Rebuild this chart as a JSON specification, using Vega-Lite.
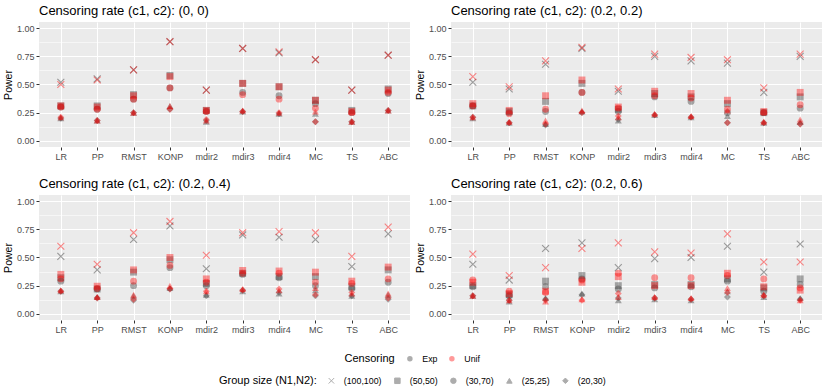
{
"$schema": "https://vega.github.io/schema/vega-lite/v6.json",
"padding": {"left": 3, "right": 5, "top": 5, "bottom": 1},
"data": {"values": [
{"p":"(0, 0)","m":"LR","c":"Exp","g":"(100,100)","v":0.52},{"p":"(0, 0)","m":"LR","c":"Exp","g":"(50,50)","v":0.31},{"p":"(0, 0)","m":"LR","c":"Exp","g":"(30,70)","v":0.30},{"p":"(0, 0)","m":"LR","c":"Exp","g":"(25,25)","v":0.20},{"p":"(0, 0)","m":"LR","c":"Exp","g":"(20,30)","v":0.20},
{"p":"(0, 0)","m":"LR","c":"Unif","g":"(100,100)","v":0.50},{"p":"(0, 0)","m":"LR","c":"Unif","g":"(50,50)","v":0.31},{"p":"(0, 0)","m":"LR","c":"Unif","g":"(30,70)","v":0.30},{"p":"(0, 0)","m":"LR","c":"Unif","g":"(25,25)","v":0.21},{"p":"(0, 0)","m":"LR","c":"Unif","g":"(20,30)","v":0.21},
{"p":"(0, 0)","m":"PP","c":"Exp","g":"(100,100)","v":0.55},{"p":"(0, 0)","m":"PP","c":"Exp","g":"(50,50)","v":0.31},{"p":"(0, 0)","m":"PP","c":"Exp","g":"(30,70)","v":0.28},{"p":"(0, 0)","m":"PP","c":"Exp","g":"(25,25)","v":0.18},{"p":"(0, 0)","m":"PP","c":"Exp","g":"(20,30)","v":0.18},
{"p":"(0, 0)","m":"PP","c":"Unif","g":"(100,100)","v":0.54},{"p":"(0, 0)","m":"PP","c":"Unif","g":"(50,50)","v":0.30},{"p":"(0, 0)","m":"PP","c":"Unif","g":"(30,70)","v":0.28},{"p":"(0, 0)","m":"PP","c":"Unif","g":"(25,25)","v":0.18},{"p":"(0, 0)","m":"PP","c":"Unif","g":"(20,30)","v":0.18},
{"p":"(0, 0)","m":"RMST","c":"Exp","g":"(100,100)","v":0.63},{"p":"(0, 0)","m":"RMST","c":"Exp","g":"(50,50)","v":0.41},{"p":"(0, 0)","m":"RMST","c":"Exp","g":"(30,70)","v":0.37},{"p":"(0, 0)","m":"RMST","c":"Exp","g":"(25,25)","v":0.25},{"p":"(0, 0)","m":"RMST","c":"Exp","g":"(20,30)","v":0.25},
{"p":"(0, 0)","m":"RMST","c":"Unif","g":"(100,100)","v":0.63},{"p":"(0, 0)","m":"RMST","c":"Unif","g":"(50,50)","v":0.40},{"p":"(0, 0)","m":"RMST","c":"Unif","g":"(30,70)","v":0.37},{"p":"(0, 0)","m":"RMST","c":"Unif","g":"(25,25)","v":0.25},{"p":"(0, 0)","m":"RMST","c":"Unif","g":"(20,30)","v":0.25},
{"p":"(0, 0)","m":"KONP","c":"Exp","g":"(100,100)","v":0.88},{"p":"(0, 0)","m":"KONP","c":"Exp","g":"(50,50)","v":0.58},{"p":"(0, 0)","m":"KONP","c":"Exp","g":"(30,70)","v":0.47},{"p":"(0, 0)","m":"KONP","c":"Exp","g":"(25,25)","v":0.31},{"p":"(0, 0)","m":"KONP","c":"Exp","g":"(20,30)","v":0.28},
{"p":"(0, 0)","m":"KONP","c":"Unif","g":"(100,100)","v":0.88},{"p":"(0, 0)","m":"KONP","c":"Unif","g":"(50,50)","v":0.57},{"p":"(0, 0)","m":"KONP","c":"Unif","g":"(30,70)","v":0.47},{"p":"(0, 0)","m":"KONP","c":"Unif","g":"(25,25)","v":0.31},{"p":"(0, 0)","m":"KONP","c":"Unif","g":"(20,30)","v":0.28},
{"p":"(0, 0)","m":"mdir2","c":"Exp","g":"(100,100)","v":0.45},{"p":"(0, 0)","m":"mdir2","c":"Exp","g":"(50,50)","v":0.27},{"p":"(0, 0)","m":"mdir2","c":"Exp","g":"(30,70)","v":0.26},{"p":"(0, 0)","m":"mdir2","c":"Exp","g":"(25,25)","v":0.17},{"p":"(0, 0)","m":"mdir2","c":"Exp","g":"(20,30)","v":0.18},
{"p":"(0, 0)","m":"mdir2","c":"Unif","g":"(100,100)","v":0.45},{"p":"(0, 0)","m":"mdir2","c":"Unif","g":"(50,50)","v":0.27},{"p":"(0, 0)","m":"mdir2","c":"Unif","g":"(30,70)","v":0.26},{"p":"(0, 0)","m":"mdir2","c":"Unif","g":"(25,25)","v":0.18},{"p":"(0, 0)","m":"mdir2","c":"Unif","g":"(20,30)","v":0.19},
{"p":"(0, 0)","m":"mdir3","c":"Exp","g":"(100,100)","v":0.82},{"p":"(0, 0)","m":"mdir3","c":"Exp","g":"(50,50)","v":0.51},{"p":"(0, 0)","m":"mdir3","c":"Exp","g":"(30,70)","v":0.43},{"p":"(0, 0)","m":"mdir3","c":"Exp","g":"(25,25)","v":0.26},{"p":"(0, 0)","m":"mdir3","c":"Exp","g":"(20,30)","v":0.26},
{"p":"(0, 0)","m":"mdir3","c":"Unif","g":"(100,100)","v":0.82},{"p":"(0, 0)","m":"mdir3","c":"Unif","g":"(50,50)","v":0.51},{"p":"(0, 0)","m":"mdir3","c":"Unif","g":"(30,70)","v":0.41},{"p":"(0, 0)","m":"mdir3","c":"Unif","g":"(25,25)","v":0.27},{"p":"(0, 0)","m":"mdir3","c":"Unif","g":"(20,30)","v":0.26},
{"p":"(0, 0)","m":"mdir4","c":"Exp","g":"(100,100)","v":0.78},{"p":"(0, 0)","m":"mdir4","c":"Exp","g":"(50,50)","v":0.48},{"p":"(0, 0)","m":"mdir4","c":"Exp","g":"(30,70)","v":0.40},{"p":"(0, 0)","m":"mdir4","c":"Exp","g":"(25,25)","v":0.24},{"p":"(0, 0)","m":"mdir4","c":"Exp","g":"(20,30)","v":0.24},
{"p":"(0, 0)","m":"mdir4","c":"Unif","g":"(100,100)","v":0.79},{"p":"(0, 0)","m":"mdir4","c":"Unif","g":"(50,50)","v":0.48},{"p":"(0, 0)","m":"mdir4","c":"Unif","g":"(30,70)","v":0.37},{"p":"(0, 0)","m":"mdir4","c":"Unif","g":"(25,25)","v":0.25},{"p":"(0, 0)","m":"mdir4","c":"Unif","g":"(20,30)","v":0.25},
{"p":"(0, 0)","m":"MC","c":"Exp","g":"(100,100)","v":0.72},{"p":"(0, 0)","m":"MC","c":"Exp","g":"(50,50)","v":0.36},{"p":"(0, 0)","m":"MC","c":"Exp","g":"(30,70)","v":0.33},{"p":"(0, 0)","m":"MC","c":"Exp","g":"(25,25)","v":0.24},{"p":"(0, 0)","m":"MC","c":"Exp","g":"(20,30)","v":0.17},
{"p":"(0, 0)","m":"MC","c":"Unif","g":"(100,100)","v":0.72},{"p":"(0, 0)","m":"MC","c":"Unif","g":"(50,50)","v":0.36},{"p":"(0, 0)","m":"MC","c":"Unif","g":"(30,70)","v":0.29},{"p":"(0, 0)","m":"MC","c":"Unif","g":"(25,25)","v":0.26},{"p":"(0, 0)","m":"MC","c":"Unif","g":"(20,30)","v":0.17},
{"p":"(0, 0)","m":"TS","c":"Exp","g":"(100,100)","v":0.45},{"p":"(0, 0)","m":"TS","c":"Exp","g":"(50,50)","v":0.27},{"p":"(0, 0)","m":"TS","c":"Exp","g":"(30,70)","v":0.25},{"p":"(0, 0)","m":"TS","c":"Exp","g":"(25,25)","v":0.17},{"p":"(0, 0)","m":"TS","c":"Exp","g":"(20,30)","v":0.17},
{"p":"(0, 0)","m":"TS","c":"Unif","g":"(100,100)","v":0.45},{"p":"(0, 0)","m":"TS","c":"Unif","g":"(50,50)","v":0.26},{"p":"(0, 0)","m":"TS","c":"Unif","g":"(30,70)","v":0.25},{"p":"(0, 0)","m":"TS","c":"Unif","g":"(25,25)","v":0.17},{"p":"(0, 0)","m":"TS","c":"Unif","g":"(20,30)","v":0.17},
{"p":"(0, 0)","m":"ABC","c":"Exp","g":"(100,100)","v":0.76},{"p":"(0, 0)","m":"ABC","c":"Exp","g":"(50,50)","v":0.46},{"p":"(0, 0)","m":"ABC","c":"Exp","g":"(30,70)","v":0.42},{"p":"(0, 0)","m":"ABC","c":"Exp","g":"(25,25)","v":0.27},{"p":"(0, 0)","m":"ABC","c":"Exp","g":"(20,30)","v":0.27},
{"p":"(0, 0)","m":"ABC","c":"Unif","g":"(100,100)","v":0.76},{"p":"(0, 0)","m":"ABC","c":"Unif","g":"(50,50)","v":0.45},{"p":"(0, 0)","m":"ABC","c":"Unif","g":"(30,70)","v":0.43},{"p":"(0, 0)","m":"ABC","c":"Unif","g":"(25,25)","v":0.27},{"p":"(0, 0)","m":"ABC","c":"Unif","g":"(20,30)","v":0.27},

{"p":"(0.2, 0.2)","m":"LR","c":"Exp","g":"(100,100)","v":0.52},{"p":"(0.2, 0.2)","m":"LR","c":"Exp","g":"(50,50)","v":0.31},{"p":"(0.2, 0.2)","m":"LR","c":"Exp","g":"(30,70)","v":0.31},{"p":"(0.2, 0.2)","m":"LR","c":"Exp","g":"(25,25)","v":0.20},{"p":"(0.2, 0.2)","m":"LR","c":"Exp","g":"(20,30)","v":0.21},
{"p":"(0.2, 0.2)","m":"LR","c":"Unif","g":"(100,100)","v":0.57},{"p":"(0.2, 0.2)","m":"LR","c":"Unif","g":"(50,50)","v":0.33},{"p":"(0.2, 0.2)","m":"LR","c":"Unif","g":"(30,70)","v":0.31},{"p":"(0.2, 0.2)","m":"LR","c":"Unif","g":"(25,25)","v":0.21},{"p":"(0.2, 0.2)","m":"LR","c":"Unif","g":"(20,30)","v":0.21},
{"p":"(0.2, 0.2)","m":"PP","c":"Exp","g":"(100,100)","v":0.46},{"p":"(0.2, 0.2)","m":"PP","c":"Exp","g":"(50,50)","v":0.26},{"p":"(0.2, 0.2)","m":"PP","c":"Exp","g":"(30,70)","v":0.25},{"p":"(0.2, 0.2)","m":"PP","c":"Exp","g":"(25,25)","v":0.16},{"p":"(0.2, 0.2)","m":"PP","c":"Exp","g":"(20,30)","v":0.16},
{"p":"(0.2, 0.2)","m":"PP","c":"Unif","g":"(100,100)","v":0.48},{"p":"(0.2, 0.2)","m":"PP","c":"Unif","g":"(50,50)","v":0.27},{"p":"(0.2, 0.2)","m":"PP","c":"Unif","g":"(30,70)","v":0.24},{"p":"(0.2, 0.2)","m":"PP","c":"Unif","g":"(25,25)","v":0.17},{"p":"(0.2, 0.2)","m":"PP","c":"Unif","g":"(20,30)","v":0.16},
{"p":"(0.2, 0.2)","m":"RMST","c":"Exp","g":"(100,100)","v":0.68},{"p":"(0.2, 0.2)","m":"RMST","c":"Exp","g":"(50,50)","v":0.35},{"p":"(0.2, 0.2)","m":"RMST","c":"Exp","g":"(30,70)","v":0.26},{"p":"(0.2, 0.2)","m":"RMST","c":"Exp","g":"(25,25)","v":0.15},{"p":"(0.2, 0.2)","m":"RMST","c":"Exp","g":"(20,30)","v":0.14},
{"p":"(0.2, 0.2)","m":"RMST","c":"Unif","g":"(100,100)","v":0.71},{"p":"(0.2, 0.2)","m":"RMST","c":"Unif","g":"(50,50)","v":0.40},{"p":"(0.2, 0.2)","m":"RMST","c":"Unif","g":"(30,70)","v":0.28},{"p":"(0.2, 0.2)","m":"RMST","c":"Unif","g":"(25,25)","v":0.18},{"p":"(0.2, 0.2)","m":"RMST","c":"Unif","g":"(20,30)","v":0.15},
{"p":"(0.2, 0.2)","m":"KONP","c":"Exp","g":"(100,100)","v":0.82},{"p":"(0.2, 0.2)","m":"KONP","c":"Exp","g":"(50,50)","v":0.51},{"p":"(0.2, 0.2)","m":"KONP","c":"Exp","g":"(30,70)","v":0.43},{"p":"(0.2, 0.2)","m":"KONP","c":"Exp","g":"(25,25)","v":0.26},{"p":"(0.2, 0.2)","m":"KONP","c":"Exp","g":"(20,30)","v":0.25},
{"p":"(0.2, 0.2)","m":"KONP","c":"Unif","g":"(100,100)","v":0.83},{"p":"(0.2, 0.2)","m":"KONP","c":"Unif","g":"(50,50)","v":0.54},{"p":"(0.2, 0.2)","m":"KONP","c":"Unif","g":"(30,70)","v":0.43},{"p":"(0.2, 0.2)","m":"KONP","c":"Unif","g":"(25,25)","v":0.27},{"p":"(0.2, 0.2)","m":"KONP","c":"Unif","g":"(20,30)","v":0.25},
{"p":"(0.2, 0.2)","m":"mdir2","c":"Exp","g":"(100,100)","v":0.44},{"p":"(0.2, 0.2)","m":"mdir2","c":"Exp","g":"(50,50)","v":0.28},{"p":"(0.2, 0.2)","m":"mdir2","c":"Exp","g":"(30,70)","v":0.26},{"p":"(0.2, 0.2)","m":"mdir2","c":"Exp","g":"(25,25)","v":0.18},{"p":"(0.2, 0.2)","m":"mdir2","c":"Exp","g":"(20,30)","v":0.19},
{"p":"(0.2, 0.2)","m":"mdir2","c":"Unif","g":"(100,100)","v":0.46},{"p":"(0.2, 0.2)","m":"mdir2","c":"Unif","g":"(50,50)","v":0.30},{"p":"(0.2, 0.2)","m":"mdir2","c":"Unif","g":"(30,70)","v":0.29},{"p":"(0.2, 0.2)","m":"mdir2","c":"Unif","g":"(25,25)","v":0.21},{"p":"(0.2, 0.2)","m":"mdir2","c":"Unif","g":"(20,30)","v":0.22},
{"p":"(0.2, 0.2)","m":"mdir3","c":"Exp","g":"(100,100)","v":0.75},{"p":"(0.2, 0.2)","m":"mdir3","c":"Exp","g":"(50,50)","v":0.42},{"p":"(0.2, 0.2)","m":"mdir3","c":"Exp","g":"(30,70)","v":0.39},{"p":"(0.2, 0.2)","m":"mdir3","c":"Exp","g":"(25,25)","v":0.23},{"p":"(0.2, 0.2)","m":"mdir3","c":"Exp","g":"(20,30)","v":0.23},
{"p":"(0.2, 0.2)","m":"mdir3","c":"Unif","g":"(100,100)","v":0.77},{"p":"(0.2, 0.2)","m":"mdir3","c":"Unif","g":"(50,50)","v":0.44},{"p":"(0.2, 0.2)","m":"mdir3","c":"Unif","g":"(30,70)","v":0.40},{"p":"(0.2, 0.2)","m":"mdir3","c":"Unif","g":"(25,25)","v":0.24},{"p":"(0.2, 0.2)","m":"mdir3","c":"Unif","g":"(20,30)","v":0.23},
{"p":"(0.2, 0.2)","m":"mdir4","c":"Exp","g":"(100,100)","v":0.71},{"p":"(0.2, 0.2)","m":"mdir4","c":"Exp","g":"(50,50)","v":0.39},{"p":"(0.2, 0.2)","m":"mdir4","c":"Exp","g":"(30,70)","v":0.35},{"p":"(0.2, 0.2)","m":"mdir4","c":"Exp","g":"(25,25)","v":0.21},{"p":"(0.2, 0.2)","m":"mdir4","c":"Exp","g":"(20,30)","v":0.21},
{"p":"(0.2, 0.2)","m":"mdir4","c":"Unif","g":"(100,100)","v":0.74},{"p":"(0.2, 0.2)","m":"mdir4","c":"Unif","g":"(50,50)","v":0.42},{"p":"(0.2, 0.2)","m":"mdir4","c":"Unif","g":"(30,70)","v":0.38},{"p":"(0.2, 0.2)","m":"mdir4","c":"Unif","g":"(25,25)","v":0.22},{"p":"(0.2, 0.2)","m":"mdir4","c":"Unif","g":"(20,30)","v":0.21},
{"p":"(0.2, 0.2)","m":"MC","c":"Exp","g":"(100,100)","v":0.69},{"p":"(0.2, 0.2)","m":"MC","c":"Exp","g":"(50,50)","v":0.33},{"p":"(0.2, 0.2)","m":"MC","c":"Exp","g":"(30,70)","v":0.25},{"p":"(0.2, 0.2)","m":"MC","c":"Exp","g":"(25,25)","v":0.22},{"p":"(0.2, 0.2)","m":"MC","c":"Exp","g":"(20,30)","v":0.16},
{"p":"(0.2, 0.2)","m":"MC","c":"Unif","g":"(100,100)","v":0.72},{"p":"(0.2, 0.2)","m":"MC","c":"Unif","g":"(50,50)","v":0.36},{"p":"(0.2, 0.2)","m":"MC","c":"Unif","g":"(30,70)","v":0.28},{"p":"(0.2, 0.2)","m":"MC","c":"Unif","g":"(25,25)","v":0.27},{"p":"(0.2, 0.2)","m":"MC","c":"Unif","g":"(20,30)","v":0.16},
{"p":"(0.2, 0.2)","m":"TS","c":"Exp","g":"(100,100)","v":0.43},{"p":"(0.2, 0.2)","m":"TS","c":"Exp","g":"(50,50)","v":0.25},{"p":"(0.2, 0.2)","m":"TS","c":"Exp","g":"(30,70)","v":0.25},{"p":"(0.2, 0.2)","m":"TS","c":"Exp","g":"(25,25)","v":0.16},{"p":"(0.2, 0.2)","m":"TS","c":"Exp","g":"(20,30)","v":0.16},
{"p":"(0.2, 0.2)","m":"TS","c":"Unif","g":"(100,100)","v":0.47},{"p":"(0.2, 0.2)","m":"TS","c":"Unif","g":"(50,50)","v":0.26},{"p":"(0.2, 0.2)","m":"TS","c":"Unif","g":"(30,70)","v":0.25},{"p":"(0.2, 0.2)","m":"TS","c":"Unif","g":"(25,25)","v":0.17},{"p":"(0.2, 0.2)","m":"TS","c":"Unif","g":"(20,30)","v":0.16},
{"p":"(0.2, 0.2)","m":"ABC","c":"Exp","g":"(100,100)","v":0.75},{"p":"(0.2, 0.2)","m":"ABC","c":"Exp","g":"(50,50)","v":0.39},{"p":"(0.2, 0.2)","m":"ABC","c":"Exp","g":"(30,70)","v":0.29},{"p":"(0.2, 0.2)","m":"ABC","c":"Exp","g":"(25,25)","v":0.17},{"p":"(0.2, 0.2)","m":"ABC","c":"Exp","g":"(20,30)","v":0.15},
{"p":"(0.2, 0.2)","m":"ABC","c":"Unif","g":"(100,100)","v":0.77},{"p":"(0.2, 0.2)","m":"ABC","c":"Unif","g":"(50,50)","v":0.43},{"p":"(0.2, 0.2)","m":"ABC","c":"Unif","g":"(30,70)","v":0.32},{"p":"(0.2, 0.2)","m":"ABC","c":"Unif","g":"(25,25)","v":0.19},{"p":"(0.2, 0.2)","m":"ABC","c":"Unif","g":"(20,30)","v":0.15},

{"p":"(0.2, 0.4)","m":"LR","c":"Exp","g":"(100,100)","v":0.51},{"p":"(0.2, 0.4)","m":"LR","c":"Exp","g":"(50,50)","v":0.32},{"p":"(0.2, 0.4)","m":"LR","c":"Exp","g":"(30,70)","v":0.29},{"p":"(0.2, 0.4)","m":"LR","c":"Exp","g":"(25,25)","v":0.20},{"p":"(0.2, 0.4)","m":"LR","c":"Exp","g":"(20,30)","v":0.20},
{"p":"(0.2, 0.4)","m":"LR","c":"Unif","g":"(100,100)","v":0.60},{"p":"(0.2, 0.4)","m":"LR","c":"Unif","g":"(50,50)","v":0.35},{"p":"(0.2, 0.4)","m":"LR","c":"Unif","g":"(30,70)","v":0.31},{"p":"(0.2, 0.4)","m":"LR","c":"Unif","g":"(25,25)","v":0.21},{"p":"(0.2, 0.4)","m":"LR","c":"Unif","g":"(20,30)","v":0.20},
{"p":"(0.2, 0.4)","m":"PP","c":"Exp","g":"(100,100)","v":0.39},{"p":"(0.2, 0.4)","m":"PP","c":"Exp","g":"(50,50)","v":0.22},{"p":"(0.2, 0.4)","m":"PP","c":"Exp","g":"(30,70)","v":0.22},{"p":"(0.2, 0.4)","m":"PP","c":"Exp","g":"(25,25)","v":0.15},{"p":"(0.2, 0.4)","m":"PP","c":"Exp","g":"(20,30)","v":0.14},
{"p":"(0.2, 0.4)","m":"PP","c":"Unif","g":"(100,100)","v":0.44},{"p":"(0.2, 0.4)","m":"PP","c":"Unif","g":"(50,50)","v":0.245},{"p":"(0.2, 0.4)","m":"PP","c":"Unif","g":"(30,70)","v":0.225},{"p":"(0.2, 0.4)","m":"PP","c":"Unif","g":"(25,25)","v":0.15},{"p":"(0.2, 0.4)","m":"PP","c":"Unif","g":"(20,30)","v":0.14},
{"p":"(0.2, 0.4)","m":"RMST","c":"Exp","g":"(100,100)","v":0.66},{"p":"(0.2, 0.4)","m":"RMST","c":"Exp","g":"(50,50)","v":0.37},{"p":"(0.2, 0.4)","m":"RMST","c":"Exp","g":"(30,70)","v":0.25},{"p":"(0.2, 0.4)","m":"RMST","c":"Exp","g":"(25,25)","v":0.16},{"p":"(0.2, 0.4)","m":"RMST","c":"Exp","g":"(20,30)","v":0.12},
{"p":"(0.2, 0.4)","m":"RMST","c":"Unif","g":"(100,100)","v":0.72},{"p":"(0.2, 0.4)","m":"RMST","c":"Unif","g":"(50,50)","v":0.39},{"p":"(0.2, 0.4)","m":"RMST","c":"Unif","g":"(30,70)","v":0.29},{"p":"(0.2, 0.4)","m":"RMST","c":"Unif","g":"(25,25)","v":0.17},{"p":"(0.2, 0.4)","m":"RMST","c":"Unif","g":"(20,30)","v":0.13},
{"p":"(0.2, 0.4)","m":"KONP","c":"Exp","g":"(100,100)","v":0.78},{"p":"(0.2, 0.4)","m":"KONP","c":"Exp","g":"(50,50)","v":0.48},{"p":"(0.2, 0.4)","m":"KONP","c":"Exp","g":"(30,70)","v":0.41},{"p":"(0.2, 0.4)","m":"KONP","c":"Exp","g":"(25,25)","v":0.23},{"p":"(0.2, 0.4)","m":"KONP","c":"Exp","g":"(20,30)","v":0.22},
{"p":"(0.2, 0.4)","m":"KONP","c":"Unif","g":"(100,100)","v":0.82},{"p":"(0.2, 0.4)","m":"KONP","c":"Unif","g":"(50,50)","v":0.50},{"p":"(0.2, 0.4)","m":"KONP","c":"Unif","g":"(30,70)","v":0.43},{"p":"(0.2, 0.4)","m":"KONP","c":"Unif","g":"(25,25)","v":0.25},{"p":"(0.2, 0.4)","m":"KONP","c":"Unif","g":"(20,30)","v":0.22},
{"p":"(0.2, 0.4)","m":"mdir2","c":"Exp","g":"(100,100)","v":0.40},{"p":"(0.2, 0.4)","m":"mdir2","c":"Exp","g":"(50,50)","v":0.27},{"p":"(0.2, 0.4)","m":"mdir2","c":"Exp","g":"(30,70)","v":0.25},{"p":"(0.2, 0.4)","m":"mdir2","c":"Exp","g":"(25,25)","v":0.17},{"p":"(0.2, 0.4)","m":"mdir2","c":"Exp","g":"(20,30)","v":0.16},
{"p":"(0.2, 0.4)","m":"mdir2","c":"Unif","g":"(100,100)","v":0.52},{"p":"(0.2, 0.4)","m":"mdir2","c":"Unif","g":"(50,50)","v":0.31},{"p":"(0.2, 0.4)","m":"mdir2","c":"Unif","g":"(30,70)","v":0.28},{"p":"(0.2, 0.4)","m":"mdir2","c":"Unif","g":"(25,25)","v":0.20},{"p":"(0.2, 0.4)","m":"mdir2","c":"Unif","g":"(20,30)","v":0.20},
{"p":"(0.2, 0.4)","m":"mdir3","c":"Exp","g":"(100,100)","v":0.70},{"p":"(0.2, 0.4)","m":"mdir3","c":"Exp","g":"(50,50)","v":0.36},{"p":"(0.2, 0.4)","m":"mdir3","c":"Exp","g":"(30,70)","v":0.35},{"p":"(0.2, 0.4)","m":"mdir3","c":"Exp","g":"(25,25)","v":0.20},{"p":"(0.2, 0.4)","m":"mdir3","c":"Exp","g":"(20,30)","v":0.21},
{"p":"(0.2, 0.4)","m":"mdir3","c":"Unif","g":"(100,100)","v":0.72},{"p":"(0.2, 0.4)","m":"mdir3","c":"Unif","g":"(50,50)","v":0.385},{"p":"(0.2, 0.4)","m":"mdir3","c":"Unif","g":"(30,70)","v":0.36},{"p":"(0.2, 0.4)","m":"mdir3","c":"Unif","g":"(25,25)","v":0.22},{"p":"(0.2, 0.4)","m":"mdir3","c":"Unif","g":"(20,30)","v":0.21},
{"p":"(0.2, 0.4)","m":"mdir4","c":"Exp","g":"(100,100)","v":0.68},{"p":"(0.2, 0.4)","m":"mdir4","c":"Exp","g":"(50,50)","v":0.33},{"p":"(0.2, 0.4)","m":"mdir4","c":"Exp","g":"(30,70)","v":0.32},{"p":"(0.2, 0.4)","m":"mdir4","c":"Exp","g":"(25,25)","v":0.18},{"p":"(0.2, 0.4)","m":"mdir4","c":"Exp","g":"(20,30)","v":0.19},
{"p":"(0.2, 0.4)","m":"mdir4","c":"Unif","g":"(100,100)","v":0.73},{"p":"(0.2, 0.4)","m":"mdir4","c":"Unif","g":"(50,50)","v":0.38},{"p":"(0.2, 0.4)","m":"mdir4","c":"Unif","g":"(30,70)","v":0.36},{"p":"(0.2, 0.4)","m":"mdir4","c":"Unif","g":"(25,25)","v":0.21},{"p":"(0.2, 0.4)","m":"mdir4","c":"Unif","g":"(20,30)","v":0.22},
{"p":"(0.2, 0.4)","m":"MC","c":"Exp","g":"(100,100)","v":0.66},{"p":"(0.2, 0.4)","m":"MC","c":"Exp","g":"(50,50)","v":0.33},{"p":"(0.2, 0.4)","m":"MC","c":"Exp","g":"(30,70)","v":0.25},{"p":"(0.2, 0.4)","m":"MC","c":"Exp","g":"(25,25)","v":0.21},{"p":"(0.2, 0.4)","m":"MC","c":"Exp","g":"(20,30)","v":0.16},
{"p":"(0.2, 0.4)","m":"MC","c":"Unif","g":"(100,100)","v":0.72},{"p":"(0.2, 0.4)","m":"MC","c":"Unif","g":"(50,50)","v":0.37},{"p":"(0.2, 0.4)","m":"MC","c":"Unif","g":"(30,70)","v":0.28},{"p":"(0.2, 0.4)","m":"MC","c":"Unif","g":"(25,25)","v":0.23},{"p":"(0.2, 0.4)","m":"MC","c":"Unif","g":"(20,30)","v":0.17},
{"p":"(0.2, 0.4)","m":"TS","c":"Exp","g":"(100,100)","v":0.42},{"p":"(0.2, 0.4)","m":"TS","c":"Exp","g":"(50,50)","v":0.24},{"p":"(0.2, 0.4)","m":"TS","c":"Exp","g":"(30,70)","v":0.225},{"p":"(0.2, 0.4)","m":"TS","c":"Exp","g":"(25,25)","v":0.16},{"p":"(0.2, 0.4)","m":"TS","c":"Exp","g":"(20,30)","v":0.16},
{"p":"(0.2, 0.4)","m":"TS","c":"Unif","g":"(100,100)","v":0.51},{"p":"(0.2, 0.4)","m":"TS","c":"Unif","g":"(50,50)","v":0.29},{"p":"(0.2, 0.4)","m":"TS","c":"Unif","g":"(30,70)","v":0.27},{"p":"(0.2, 0.4)","m":"TS","c":"Unif","g":"(25,25)","v":0.18},{"p":"(0.2, 0.4)","m":"TS","c":"Unif","g":"(20,30)","v":0.19},
{"p":"(0.2, 0.4)","m":"ABC","c":"Exp","g":"(100,100)","v":0.71},{"p":"(0.2, 0.4)","m":"ABC","c":"Exp","g":"(50,50)","v":0.39},{"p":"(0.2, 0.4)","m":"ABC","c":"Exp","g":"(30,70)","v":0.28},{"p":"(0.2, 0.4)","m":"ABC","c":"Exp","g":"(25,25)","v":0.17},{"p":"(0.2, 0.4)","m":"ABC","c":"Exp","g":"(20,30)","v":0.13},
{"p":"(0.2, 0.4)","m":"ABC","c":"Unif","g":"(100,100)","v":0.77},{"p":"(0.2, 0.4)","m":"ABC","c":"Unif","g":"(50,50)","v":0.415},{"p":"(0.2, 0.4)","m":"ABC","c":"Unif","g":"(30,70)","v":0.31},{"p":"(0.2, 0.4)","m":"ABC","c":"Unif","g":"(25,25)","v":0.18},{"p":"(0.2, 0.4)","m":"ABC","c":"Unif","g":"(20,30)","v":0.14},

{"p":"(0.2, 0.6)","m":"LR","c":"Exp","g":"(100,100)","v":0.44},{"p":"(0.2, 0.6)","m":"LR","c":"Exp","g":"(50,50)","v":0.25},{"p":"(0.2, 0.6)","m":"LR","c":"Exp","g":"(30,70)","v":0.24},{"p":"(0.2, 0.6)","m":"LR","c":"Exp","g":"(25,25)","v":0.16},{"p":"(0.2, 0.6)","m":"LR","c":"Exp","g":"(20,30)","v":0.16},
{"p":"(0.2, 0.6)","m":"LR","c":"Unif","g":"(100,100)","v":0.53},{"p":"(0.2, 0.6)","m":"LR","c":"Unif","g":"(50,50)","v":0.28},{"p":"(0.2, 0.6)","m":"LR","c":"Unif","g":"(30,70)","v":0.30},{"p":"(0.2, 0.6)","m":"LR","c":"Unif","g":"(25,25)","v":0.16},{"p":"(0.2, 0.6)","m":"LR","c":"Unif","g":"(20,30)","v":0.16},
{"p":"(0.2, 0.6)","m":"PP","c":"Exp","g":"(100,100)","v":0.30},{"p":"(0.2, 0.6)","m":"PP","c":"Exp","g":"(50,50)","v":0.17},{"p":"(0.2, 0.6)","m":"PP","c":"Exp","g":"(30,70)","v":0.16},{"p":"(0.2, 0.6)","m":"PP","c":"Exp","g":"(25,25)","v":0.11},{"p":"(0.2, 0.6)","m":"PP","c":"Exp","g":"(20,30)","v":0.12},
{"p":"(0.2, 0.6)","m":"PP","c":"Unif","g":"(100,100)","v":0.34},{"p":"(0.2, 0.6)","m":"PP","c":"Unif","g":"(50,50)","v":0.18},{"p":"(0.2, 0.6)","m":"PP","c":"Unif","g":"(30,70)","v":0.20},{"p":"(0.2, 0.6)","m":"PP","c":"Unif","g":"(25,25)","v":0.12},{"p":"(0.2, 0.6)","m":"PP","c":"Unif","g":"(20,30)","v":0.12},
{"p":"(0.2, 0.6)","m":"RMST","c":"Exp","g":"(100,100)","v":0.58},{"p":"(0.2, 0.6)","m":"RMST","c":"Exp","g":"(50,50)","v":0.29},{"p":"(0.2, 0.6)","m":"RMST","c":"Exp","g":"(30,70)","v":0.24},{"p":"(0.2, 0.6)","m":"RMST","c":"Exp","g":"(25,25)","v":0.14},{"p":"(0.2, 0.6)","m":"RMST","c":"Exp","g":"(20,30)","v":0.13},
{"p":"(0.2, 0.6)","m":"RMST","c":"Unif","g":"(100,100)","v":0.41},{"p":"(0.2, 0.6)","m":"RMST","c":"Unif","g":"(50,50)","v":0.20},{"p":"(0.2, 0.6)","m":"RMST","c":"Unif","g":"(30,70)","v":0.19},{"p":"(0.2, 0.6)","m":"RMST","c":"Unif","g":"(25,25)","v":0.11},{"p":"(0.2, 0.6)","m":"RMST","c":"Unif","g":"(20,30)","v":0.12},
{"p":"(0.2, 0.6)","m":"KONP","c":"Exp","g":"(100,100)","v":0.63},{"p":"(0.2, 0.6)","m":"KONP","c":"Exp","g":"(50,50)","v":0.34},{"p":"(0.2, 0.6)","m":"KONP","c":"Exp","g":"(30,70)","v":0.31},{"p":"(0.2, 0.6)","m":"KONP","c":"Exp","g":"(25,25)","v":0.18},{"p":"(0.2, 0.6)","m":"KONP","c":"Exp","g":"(20,30)","v":0.17},
{"p":"(0.2, 0.6)","m":"KONP","c":"Unif","g":"(100,100)","v":0.58},{"p":"(0.2, 0.6)","m":"KONP","c":"Unif","g":"(50,50)","v":0.28},{"p":"(0.2, 0.6)","m":"KONP","c":"Unif","g":"(30,70)","v":0.30},{"p":"(0.2, 0.6)","m":"KONP","c":"Unif","g":"(25,25)","v":0.13},{"p":"(0.2, 0.6)","m":"KONP","c":"Unif","g":"(20,30)","v":0.12},
{"p":"(0.2, 0.6)","m":"mdir2","c":"Exp","g":"(100,100)","v":0.41},{"p":"(0.2, 0.6)","m":"mdir2","c":"Exp","g":"(50,50)","v":0.25},{"p":"(0.2, 0.6)","m":"mdir2","c":"Exp","g":"(30,70)","v":0.22},{"p":"(0.2, 0.6)","m":"mdir2","c":"Exp","g":"(25,25)","v":0.12},{"p":"(0.2, 0.6)","m":"mdir2","c":"Exp","g":"(20,30)","v":0.14},
{"p":"(0.2, 0.6)","m":"mdir2","c":"Unif","g":"(100,100)","v":0.63},{"p":"(0.2, 0.6)","m":"mdir2","c":"Unif","g":"(50,50)","v":0.33},{"p":"(0.2, 0.6)","m":"mdir2","c":"Unif","g":"(30,70)","v":0.36},{"p":"(0.2, 0.6)","m":"mdir2","c":"Unif","g":"(25,25)","v":0.15},{"p":"(0.2, 0.6)","m":"mdir2","c":"Unif","g":"(20,30)","v":0.18},
{"p":"(0.2, 0.6)","m":"mdir3","c":"Exp","g":"(100,100)","v":0.49},{"p":"(0.2, 0.6)","m":"mdir3","c":"Exp","g":"(50,50)","v":0.26},{"p":"(0.2, 0.6)","m":"mdir3","c":"Exp","g":"(30,70)","v":0.23},{"p":"(0.2, 0.6)","m":"mdir3","c":"Exp","g":"(25,25)","v":0.13},{"p":"(0.2, 0.6)","m":"mdir3","c":"Exp","g":"(20,30)","v":0.14},
{"p":"(0.2, 0.6)","m":"mdir3","c":"Unif","g":"(100,100)","v":0.55},{"p":"(0.2, 0.6)","m":"mdir3","c":"Unif","g":"(50,50)","v":0.25},{"p":"(0.2, 0.6)","m":"mdir3","c":"Unif","g":"(30,70)","v":0.32},{"p":"(0.2, 0.6)","m":"mdir3","c":"Unif","g":"(25,25)","v":0.15},{"p":"(0.2, 0.6)","m":"mdir3","c":"Unif","g":"(20,30)","v":0.14},
{"p":"(0.2, 0.6)","m":"mdir4","c":"Exp","g":"(100,100)","v":0.50},{"p":"(0.2, 0.6)","m":"mdir4","c":"Exp","g":"(50,50)","v":0.26},{"p":"(0.2, 0.6)","m":"mdir4","c":"Exp","g":"(30,70)","v":0.24},{"p":"(0.2, 0.6)","m":"mdir4","c":"Exp","g":"(25,25)","v":0.12},{"p":"(0.2, 0.6)","m":"mdir4","c":"Exp","g":"(20,30)","v":0.13},
{"p":"(0.2, 0.6)","m":"mdir4","c":"Unif","g":"(100,100)","v":0.54},{"p":"(0.2, 0.6)","m":"mdir4","c":"Unif","g":"(50,50)","v":0.25},{"p":"(0.2, 0.6)","m":"mdir4","c":"Unif","g":"(30,70)","v":0.32},{"p":"(0.2, 0.6)","m":"mdir4","c":"Unif","g":"(25,25)","v":0.14},{"p":"(0.2, 0.6)","m":"mdir4","c":"Unif","g":"(20,30)","v":0.13},
{"p":"(0.2, 0.6)","m":"MC","c":"Exp","g":"(100,100)","v":0.60},{"p":"(0.2, 0.6)","m":"MC","c":"Exp","g":"(50,50)","v":0.31},{"p":"(0.2, 0.6)","m":"MC","c":"Exp","g":"(30,70)","v":0.29},{"p":"(0.2, 0.6)","m":"MC","c":"Exp","g":"(25,25)","v":0.20},{"p":"(0.2, 0.6)","m":"MC","c":"Exp","g":"(20,30)","v":0.15},
{"p":"(0.2, 0.6)","m":"MC","c":"Unif","g":"(100,100)","v":0.71},{"p":"(0.2, 0.6)","m":"MC","c":"Unif","g":"(50,50)","v":0.36},{"p":"(0.2, 0.6)","m":"MC","c":"Unif","g":"(30,70)","v":0.34},{"p":"(0.2, 0.6)","m":"MC","c":"Unif","g":"(25,25)","v":0.23},{"p":"(0.2, 0.6)","m":"MC","c":"Unif","g":"(20,30)","v":0.19},
{"p":"(0.2, 0.6)","m":"TS","c":"Exp","g":"(100,100)","v":0.37},{"p":"(0.2, 0.6)","m":"TS","c":"Exp","g":"(50,50)","v":0.23},{"p":"(0.2, 0.6)","m":"TS","c":"Exp","g":"(30,70)","v":0.20},{"p":"(0.2, 0.6)","m":"TS","c":"Exp","g":"(25,25)","v":0.15},{"p":"(0.2, 0.6)","m":"TS","c":"Exp","g":"(20,30)","v":0.16},
{"p":"(0.2, 0.6)","m":"TS","c":"Unif","g":"(100,100)","v":0.46},{"p":"(0.2, 0.6)","m":"TS","c":"Unif","g":"(50,50)","v":0.24},{"p":"(0.2, 0.6)","m":"TS","c":"Unif","g":"(30,70)","v":0.31},{"p":"(0.2, 0.6)","m":"TS","c":"Unif","g":"(25,25)","v":0.17},{"p":"(0.2, 0.6)","m":"TS","c":"Unif","g":"(20,30)","v":0.16},
{"p":"(0.2, 0.6)","m":"ABC","c":"Exp","g":"(100,100)","v":0.62},{"p":"(0.2, 0.6)","m":"ABC","c":"Exp","g":"(50,50)","v":0.31},{"p":"(0.2, 0.6)","m":"ABC","c":"Exp","g":"(30,70)","v":0.26},{"p":"(0.2, 0.6)","m":"ABC","c":"Exp","g":"(25,25)","v":0.14},{"p":"(0.2, 0.6)","m":"ABC","c":"Exp","g":"(20,30)","v":0.13},
{"p":"(0.2, 0.6)","m":"ABC","c":"Unif","g":"(100,100)","v":0.46},{"p":"(0.2, 0.6)","m":"ABC","c":"Unif","g":"(50,50)","v":0.21},{"p":"(0.2, 0.6)","m":"ABC","c":"Unif","g":"(30,70)","v":0.23},{"p":"(0.2, 0.6)","m":"ABC","c":"Unif","g":"(25,25)","v":0.12},{"p":"(0.2, 0.6)","m":"ABC","c":"Unif","g":"(20,30)","v":0.12}
]},
"transform": [
  {"lookup": "p", "from": {"data": {"values": [
    {"p": "(0, 0)", "t": "Censoring rate (c1, c2): (0, 0)"},
    {"p": "(0.2, 0.2)", "t": "Censoring rate (c1, c2): (0.2, 0.2)"},
    {"p": "(0.2, 0.4)", "t": "Censoring rate (c1, c2): (0.2, 0.4)"},
    {"p": "(0.2, 0.6)", "t": "Censoring rate (c1, c2): (0.2, 0.6)"}]}, "key": "p", "fields": ["t"]}}
],
"facet": {"field": "t", "type": "nominal", "title": null,
  "header": {"labelAnchor": "start", "labelFontSize": 13, "labelColor": "black", "labelPadding": 4, "labelFont": "Liberation Sans"}},
"columns": 2,
"spacing": {"column": 5, "row": 17},
"resolve": {"axis": {"x": "independent", "y": "independent"}},
"spec": {
  "width": 371, "height": 125,
  "layer": [
    {"mark": {"type": "point", "opacity": 0},
     "encoding": {
       "x": {"field": "m", "type": "nominal", "sort": ["LR","PP","RMST","KONP","mdir2","mdir3","mdir4","MC","TS","ABC"], "scale": {"type": "point", "padding": 0.6},
             "axis": {"title": null, "labelAngle": 0, "grid": true}},
       "y": {"field": "v", "type": "quantitative", "scale": {"domain": [-0.055, 1.055], "nice": false, "zero": false},
             "axis": {"orient": "right", "values": [0.125, 0.375, 0.625, 0.875], "grid": true, "gridWidth": 0.55, "labels": false, "ticks": false, "domain": false, "title": null}}
     }},
    {"mark": {"type": "point", "filled": true, "fillOpacity": 0.4, "strokeOpacity": 0.45, "size": 48},
     "encoding": {
       "x": {"field": "m", "type": "nominal", "sort": ["LR","PP","RMST","KONP","mdir2","mdir3","mdir4","MC","TS","ABC"], "scale": {"type": "point", "padding": 0.6},
             "axis": {"title": null, "labelAngle": 0, "grid": true}},
       "y": {"field": "v", "type": "quantitative", "scale": {"domain": [-0.055, 1.055], "nice": false, "zero": false},
             "axis": {"orient": "left", "values": [0, 0.25, 0.5, 0.75, 1], "format": ".2f", "title": "Power", "grid": true}},
       "color": {"field": "c", "type": "nominal", "title": "Censoring",
                 "scale": {"domain": ["Exp", "Unif"], "range": ["#333333", "#FF0000"]},
                 "legend": {"symbolOpacity": 0.4, "symbolStrokeWidth": 0, "symbolType": "circle"}},
       "stroke": {"condition": {"test": "datum.c === 'Exp'", "value": "#333333"}, "value": "#FF0000"},
       "strokeWidth": {"condition": {"test": "datum.g === '(100,100)'", "value": 1.1}, "value": 0},
       "shape": {"field": "g", "type": "nominal", "title": "Group size (N1,N2):",
                 "scale": {"domain": ["(100,100)", "(50,50)", "(30,70)", "(25,25)", "(20,30)"],
                           "range": ["M-1,-1L1,1M-1,1L1,-1", "square", "circle", "triangle-up", "diamond"]},
                 "legend": {"symbolFillColor": "#333333", "symbolStrokeColor": "#333333", "symbolStrokeWidth": 1, "symbolOpacity": 0.4}}
     }}
  ],
  "resolve": {"axis": {"y": "independent"}}
},
"config": {
  "font": "Liberation Sans",
  "view": {"fill": "#EBEBEB", "stroke": null},
  "axis": {"gridColor": "#FFFFFF", "gridWidth": 1.1, "domain": false, "tickColor": "#333333", "tickSize": 3, "labelColor": "#4D4D4D", "labelFontSize": 9, "labelPadding": 2, "titleFontSize": 10.5, "titleFontWeight": "normal", "titleColor": "#000000", "titlePadding": 3},
  "legend": {"orient": "bottom", "direction": "horizontal", "titleOrient": "left", "titleFontSize": 11, "titleFontWeight": "normal", "titleColor": "#000000", "labelFontSize": 8.8, "labelColor": "#000000", "symbolSize": 30, "columnPadding": 10, "labelOffset": 8, "titlePadding": 10, "offset": 20,
             "layout": {"bottom": {"anchor": "middle", "direction": "vertical", "center": true, "margin": 12}}}
}
}
